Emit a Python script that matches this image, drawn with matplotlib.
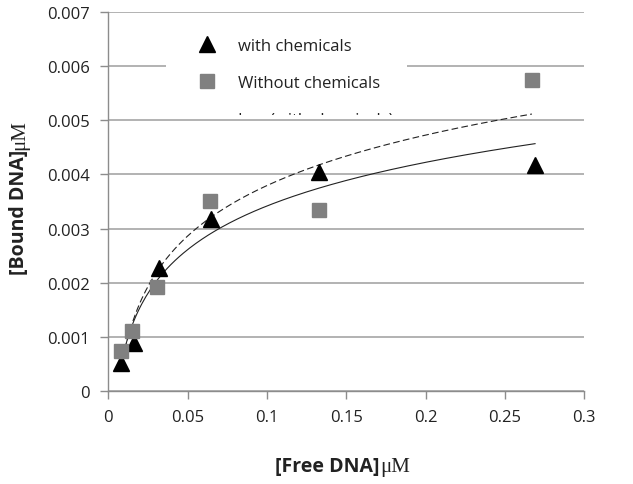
import numpy as np
import matplotlib
matplotlib.use("Agg")
import matplotlib.pyplot as plt
from matplotlib.lines import Line2D
from matplotlib.patches import Rectangle
from matplotlib.transforms import Bbox, TransformedBbox

plt.rcParams["font.family"] = ["Open Sans", "DejaVu Sans"]

# data
free_with = [0.008, 0.016, 0.032, 0.065, 0.133, 0.269]
bound_with = [0.00052, 0.00088, 0.00228, 0.00317, 0.00405, 0.00418]
free_without = [0.008, 0.015, 0.031, 0.064, 0.133, 0.267]
bound_without = [0.00073, 0.00110, 0.00192, 0.00351, 0.00334, 0.00574]

x_ticks = [0, 0.05, 0.1, 0.15, 0.2, 0.25, 0.3]
x_labels = ["0", "0.05", "0.1", "0.15", "0.2", "0.25", "0.3"]
y_ticks = [0, 0.001, 0.002, 0.003, 0.004, 0.005, 0.006, 0.007]
y_labels = ["0", "0.001", "0.002", "0.003", "0.004", "0.005", "0.006", "0.007"]

GRID = "#a6a6a6"
AXIS = "#8c8c8c"
SQUARE = "#808080"
TEXT = "#222222"


def log_trend(x, y):
    """Excel-style logarithmic trendline y = a*ln(x) + b."""
    x = np.asarray(x)
    a, b = np.polyfit(np.log(x), np.asarray(y), 1)
    xs = np.linspace(x.min(), x.max(), 200)
    return xs, a * np.log(xs) + b


fig = plt.figure(figsize=(6.33, 4.85), dpi=100)
ax = fig.add_axes([0.171, 0.192, 0.752, 0.781])

ax.set_xlim(0, 0.3)
ax.set_ylim(0, 0.007)
ax.set_xticks(x_ticks, x_labels)
ax.set_yticks(y_ticks, y_labels)
ax.tick_params(axis="both", direction="out", length=5.5, width=1, color=AXIS,
               labelsize=12, labelcolor=TEXT, pad=7.5)
ax.grid(axis="y", color=GRID, linewidth=1.2, zorder=0)
ax.set_axisbelow(True)
for side in ("top", "right"):
    ax.spines[side].set_visible(False)
for side in ("left", "bottom"):
    ax.spines[side].set_color(AXIS)
    ax.spines[side].set_linewidth(1)

# trendlines
xs, ys = log_trend(free_with, bound_with)
ax.plot(xs, ys, color=TEXT, linewidth=0.8, zorder=3)
xs, ys = log_trend(free_without, bound_without)
ax.plot(xs, ys, color=TEXT, linewidth=0.8, linestyle=(0, (6, 3)), zorder=3)

# points
ax.plot(free_with, bound_with, linestyle="none", marker="^", markersize=11,
        color="black", zorder=4)
ax.plot(free_without, bound_without, linestyle="none", marker="s", markersize=10,
        color=SQUARE, zorder=4)

# legend box (white, no border), overlapping the plot area like Excel
box = Rectangle((0.122, 0.7215), 0.506, 0.26, transform=ax.transAxes,
                facecolor="white", edgecolor="none", zorder=2)
ax.add_patch(box)

handles = [
    Line2D([], [], linestyle="none", marker="^", markersize=11, color="black"),
    Line2D([], [], linestyle="none", marker="s", markersize=10, color=SQUARE),
    Line2D([], [], color=TEXT, linewidth=0.8),
]
labels = ["with chemicals", "Without chemicals", "Log (with chemicals)"]
leg = ax.legend(handles, labels, loc="upper left", bbox_to_anchor=(0.1905, 0.9314),
                frameon=False, fontsize=12, labelspacing=1.25, handlelength=1.0,
                handletextpad=1.37, borderaxespad=0, borderpad=0)
for t in leg.get_texts():
    t.set_color(TEXT)
# the third entry is cut off by the edge of the legend box
cut = TransformedBbox(Bbox([[0, 0.7296], [1, 1.2]]), ax.transAxes)
for art in (leg.get_texts()[2], leg.legend_handles[2]):
    art.set_clip_on(True)
    art.set_clip_box(cut)

# axis titles: bold sans bracket part + serif unit
fig.text(0.600, 0.027, "[Free DNA]", ha="right", va="baseline", fontsize=14,
         fontweight="bold", color=TEXT)
fig.text(0.600, 0.027, "\u03bcM", ha="left", va="baseline", fontsize=15,
         family="Liberation Serif", color=TEXT)
fig.text(0.038, 0.691, "[Bound DNA]", ha="right", va="baseline", fontsize=14,
         fontweight="bold", color=TEXT, rotation=90, rotation_mode="anchor")
fig.text(0.038, 0.691, "\u03bcM", ha="left", va="baseline", fontsize=15,
         family="Liberation Serif", color=TEXT, rotation=90,
         rotation_mode="anchor")

fig.savefig("out.png", dpi=100, facecolor="white")
